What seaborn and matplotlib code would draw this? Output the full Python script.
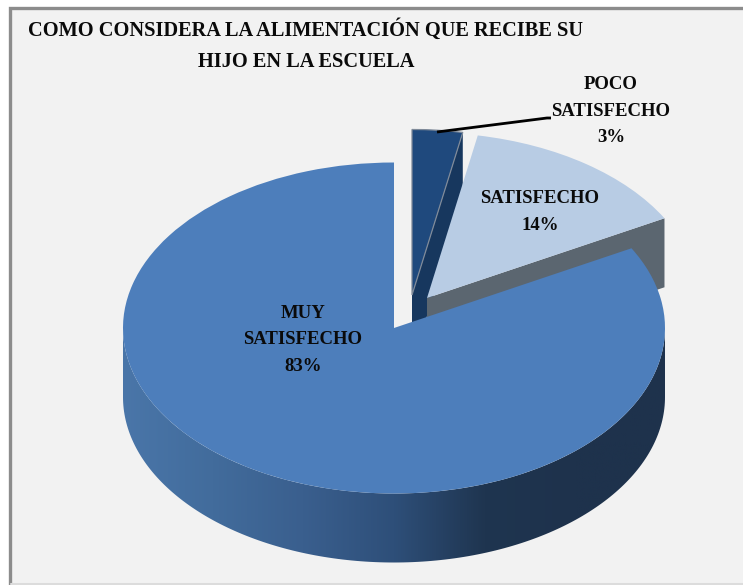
import numpy as np
import matplotlib
matplotlib.use("Agg")
import matplotlib.pyplot as plt
from matplotlib.patches import Polygon, Rectangle
from matplotlib.transforms import Affine2D
import seaborn as sns

# data
labels = ["POCO\nSATISFECHO", "SATISFECHO", "MUY\nSATISFECHO"]
shares = [3, 14, 83]
title_lines = ["COMO CONSIDERA LA ALIMENTACIÓN QUE RECIBE SU", "HIJO EN LA ESCUELA"]

# -------------------------------
# look of the pie (pixels of the 743x585 picture)
# -------------------------------
top_colors = ["#1f497d", "#b8cce4", "#4d7ebb"]
cut_colors = ["#17375e", "#5b6670", None]
cx, cy, rx, ry = 394, 328, 271, 165.5
depth = 69
offsets = [(18, -33), (33, -30), (0, 0)]
font = "Liberation Serif"

sns.set_theme(style="white")
plt.rcParams["font.family"] = [font, "DejaVu Sans"]

fig = plt.figure(figsize=(7.43, 5.85), dpi=100, facecolor="white")
ax = fig.add_axes([0, 0, 1, 1])

wedges, _ = ax.pie(shares, colors=top_colors, startangle=90, counterclock=False)
ax.set_aspect("auto")
ax.set_xlim(0, 743)
ax.set_ylim(585, 0)
ax.axis("off")

# chart frame: only left and top show as dark lines
ax.add_patch(Rectangle((10, 8), 760, 575, fc="#f2f2f2", ec="none", zorder=0))
ax.plot([10, 10, 743], [585, 8, 8], color="#8c8c8c", lw=2.4, zorder=1, solid_joinstyle="miter")
ax.plot([11, 743], [584, 584], color="#dcdcdc", lw=1.5, zorder=1)


def rim(theta, dx, dy):
    t = np.radians(theta)
    return cx + dx + rx * np.cos(t), cy + dy - ry * np.sin(t)


# back to front: poco, satisfecho, muy satisfecho
for i, w in enumerate(wedges):
    dx, dy = offsets[i]
    w.set_center((0, 0))
    w.set_transform(Affine2D().scale(rx, -ry).translate(cx + dx, cy + dy) + ax.transData)
    w.set_edgecolor("none")
    w.set_zorder(3 + i * 2)

    # flat cut face on the right side of the exploded slices
    if cut_colors[i]:
        ex, ey = rim(w.theta1, dx, dy)
        vx, vy = cx + dx, cy + dy
        ax.add_patch(Polygon([(vx, vy), (ex, ey), (ex, ey + depth), (vx, vy + depth)],
                             fc=cut_colors[i], ec="none", zorder=2 + i * 2))

# thin grey edge on the small slice
wedges[0].set_edgecolor("#7f8a99")
wedges[0].set_linewidth(0.9)

# outer wall of the big slice, shaded from left to right
theta = np.linspace(-180, 0, 181)
xs, ys = rim(theta, 0, 0)
wall = Polygon(np.r_[np.c_[xs, ys], np.c_[xs[::-1], ys[::-1] + depth]],
               closed=True, fc="none", ec="none", transform=ax.transData)
ax.add_patch(wall)
shade = sns.blend_palette(["#4a76a9", "#426c9c", "#3a5f8e", "#2e4f79", "#1f3550", "#1e324c", "#1e324c"], as_cmap=True)
img = ax.imshow(np.linspace(0, 1, 256)[None, :], cmap=shade, aspect="auto",
                extent=(cx - rx - 2, cx + rx + 2, cy + ry + depth + 5, cy - 5), zorder=4)
img.set_clip_path(wall)
ax.set_xlim(0, 743)
ax.set_ylim(585, 0)

# leader line of the small slice
ax.plot([437, 547, 551], [132, 118, 118], color="black", lw=2, zorder=9, solid_capstyle="butt")

# text
ax.text(305, 30, title_lines[0], ha="center", va="center", fontsize=14.7, fontweight="bold", color="#0a0a0a", zorder=10)
ax.text(306, 62, title_lines[1], ha="center", va="center", fontsize=14.7, fontweight="bold", color="#0a0a0a", zorder=10)
label_pos = [(611, 111), (540, 212), (303, 340)]
for lab, val, (x, y) in zip(labels, shares, label_pos):
    ax.text(x, y, f"{lab}\n{val}%", ha="center", va="center", fontsize=13.5, fontweight="bold",
            color="#0a0a0a", linespacing=1.7, zorder=10)

fig.savefig("out.png", dpi=100)
